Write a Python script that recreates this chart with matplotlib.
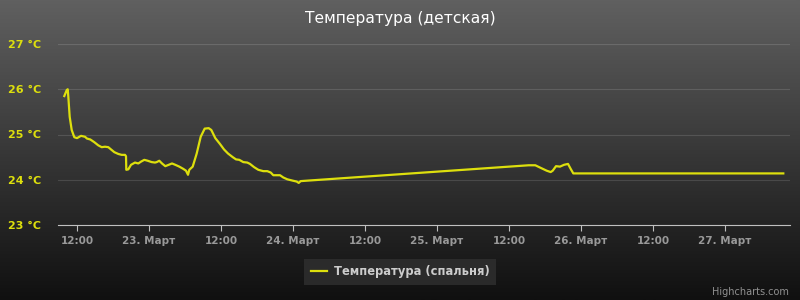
"""Температура в детской — линия в стиле тёмной темы Highcharts."""
import matplotlib
matplotlib.use('Agg')
import matplotlib.pyplot as plt
import numpy as np
import pandas as pd

# Данные
times = [
    '2013-03-22 09:53', '2013-03-22 10:17', '2013-03-22 10:27', '2013-03-22 10:33',
    '2013-03-22 10:47', '2013-03-22 11:07', '2013-03-22 11:33', '2013-03-22 12:00',
    '2013-03-22 12:40', '2013-03-22 13:20', '2013-03-22 13:40', '2013-03-22 14:13',
    '2013-03-22 14:53', '2013-03-22 15:33', '2013-03-22 16:07', '2013-03-22 16:40',
    '2013-03-22 17:13', '2013-03-22 17:40', '2013-03-22 18:13', '2013-03-22 18:53',
    '2013-03-22 19:27', '2013-03-22 20:00', '2013-03-22 20:10', '2013-03-22 20:13',
    '2013-03-22 20:33', '2013-03-22 21:00', '2013-03-22 21:40', '2013-03-22 22:13',
    '2013-03-22 22:40', '2013-03-22 23:13', '2013-03-22 23:47', '2013-03-23 00:27',
    '2013-03-23 01:00', '2013-03-23 01:17', '2013-03-23 01:43', '2013-03-23 02:10',
    '2013-03-23 02:43', '2013-03-23 03:17', '2013-03-23 03:50', '2013-03-23 04:23',
    '2013-03-23 05:03', '2013-03-23 05:43', '2013-03-23 06:10', '2013-03-23 06:30',
    '2013-03-23 06:43', '2013-03-23 07:17', '2013-03-23 07:57', '2013-03-23 08:37',
    '2013-03-23 09:17', '2013-03-23 09:57', '2013-03-23 10:23', '2013-03-23 11:03',
    '2013-03-23 11:50', '2013-03-23 12:30', '2013-03-23 13:10', '2013-03-23 13:57',
    '2013-03-23 14:30', '2013-03-23 15:03', '2013-03-23 15:43', '2013-03-23 16:23',
    '2013-03-23 16:50', '2013-03-23 17:30', '2013-03-23 18:13', '2013-03-23 19:03',
    '2013-03-23 19:43', '2013-03-23 20:17', '2013-03-23 20:43', '2013-03-23 21:50',
    '2013-03-23 22:23', '2013-03-23 23:03', '2013-03-23 23:57', '2013-03-24 00:37',
    '2013-03-24 00:57', '2013-03-24 01:17', '2013-03-25 15:17', '2013-03-25 16:23',
    '2013-03-25 17:10', '2013-03-25 18:17', '2013-03-25 18:57', '2013-03-25 19:17',
    '2013-03-25 19:50', '2013-03-25 20:30', '2013-03-25 21:10', '2013-03-25 21:50',
    '2013-03-25 22:17', '2013-03-25 22:43', '2013-03-27 09:43',
]
temps = [
    25.85, 25.98, 26.00, 25.84, 25.39, 25.10, 24.94, 24.92,
    24.97, 24.95, 24.91, 24.89, 24.83, 24.76, 24.72, 24.73,
    24.72, 24.67, 24.61, 24.57, 24.55, 24.55, 24.52, 24.22,
    24.23, 24.33, 24.38, 24.36, 24.40, 24.44, 24.42, 24.39,
    24.38, 24.39, 24.42, 24.36, 24.30, 24.33, 24.36, 24.33,
    24.29, 24.24, 24.20, 24.11, 24.22, 24.29, 24.58, 24.95,
    25.13, 25.14, 25.10, 24.92, 24.79, 24.67, 24.58, 24.50,
    24.45, 24.44, 24.39, 24.38, 24.35, 24.28, 24.22, 24.19,
    24.19, 24.16, 24.10, 24.10, 24.05, 24.01, 23.98, 23.96,
    23.93, 23.97, 24.32, 24.32, 24.27, 24.20, 24.17, 24.20,
    24.30, 24.29, 24.33, 24.35, 24.24, 24.14, 24.14,
]

y_ticks = [23, 24, 25, 26, 27]
x_tick_times = ['2013-03-22 12:00', '2013-03-23 00:00', '2013-03-23 12:00',
                '2013-03-24 00:00', '2013-03-24 12:00', '2013-03-25 00:00',
                '2013-03-25 12:00', '2013-03-26 00:00', '2013-03-26 12:00',
                '2013-03-27 00:00']
x_tick_labels = ['12:00', '23. Март', '12:00', '24. Март', '12:00',
                 '25. Март', '12:00', '26. Март', '12:00', '27. Март']
x_range = ['2013-03-22 08:50', '2013-03-27 10:50']

title = 'Температура (детская)'
series_name = 'Температура (спальня)'
yellow = '#DDDF0D'

fig = plt.figure(figsize=(8, 3), dpi=100)

# Фон — вертикальный градиент
bg = fig.add_axes([0, 0, 1, 1], zorder=-10)
grad = np.linspace(0, 1, 256).reshape(-1, 1)
top, bottom = np.array([96, 96, 96]) / 255, np.array([16, 16, 16]) / 255
img = top + (bottom - top) * grad[:, :, None]
bg.imshow(img, aspect='auto', extent=[0, 1, 0, 1])
bg.axis('off')

ax = fig.add_axes([58 / 800, 1 - 225 / 300, 732 / 800, 181 / 300])
ax.patch.set_alpha(0)

t = pd.to_datetime(times)
ax.plot(t, temps, color=yellow, lw=1.6, solid_joinstyle='round', zorder=3)

ax.set_ylim(23, 27)
ax.set_xlim(pd.to_datetime(x_range[0]), pd.to_datetime(x_range[1]))

ax.set_yticks(y_ticks)
ax.set_yticklabels([f'{v} °C' for v in y_ticks])
ax.set_xticks(pd.to_datetime(x_tick_times))
ax.set_xticklabels(x_tick_labels)

ax.tick_params(axis='y', length=0, pad=12, labelcolor=yellow, labelsize=8)
ax.tick_params(axis='x', length=4, width=0.8, color='#C0C0C0', pad=4,
               labelcolor='#999999', labelsize=7.5)
for lbl in ax.get_xticklabels() + ax.get_yticklabels():
    lbl.set_fontweight('bold')

for side in ['top', 'right', 'left']:
    ax.spines[side].set_visible(False)
ax.spines['bottom'].set_color('#C0C0C0')
ax.spines['bottom'].set_linewidth(0.8)

ax.yaxis.grid(True, color='white', alpha=0.13, lw=0.8)
ax.set_axisbelow(True)

fig.text(0.5, 1 - 18 / 300, title, ha='center', va='center',
         color='white', fontsize=11.2)

leg = fig.legend(handles=ax.get_lines(), labels=[series_name], loc='center',
                 bbox_to_anchor=(400 / 800, 1 - 272 / 300), frameon=True,
                 fancybox=False, handlelength=1.4, handletextpad=0.6,
                 borderpad=0.6, prop={'weight': 'bold', 'size': 8.3})
leg.get_frame().set_facecolor((48 / 255, 48 / 255, 48 / 255, 0.8))
leg.get_frame().set_edgecolor('none')
for txt in leg.get_texts():
    txt.set_color('#CCCCCC')

fig.text(789 / 800, 1 - 292 / 300, 'Highcharts.com', ha='right', va='center',
         color='#909090', fontsize=7)

fig.savefig('out.png', dpi=100)
